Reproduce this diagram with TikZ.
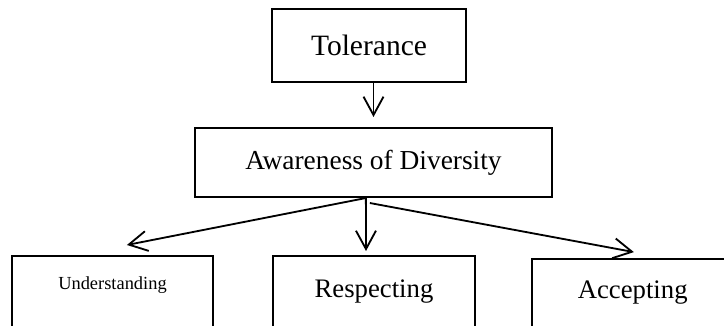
\documentclass[tikz,border=0pt]{standalone}
\usepackage{fontspec}
\setmainfont{Liberation Serif}
\usetikzlibrary{arrows.meta}
\begin{document}
\begin{tikzpicture}[x=0.025cm, y=-0.025cm,
    box/.style={draw, line width=1.3pt, inner sep=0pt},
    leaf/.style={box, anchor=north, minimum width=5.03cm, text depth=2.8cm},
    arr/.style={-{Straight Barb[length=0.46cm, width=0.5cm]}, line width=1.3pt}]
            \useasboundingbox (0, 0) rectangle (724, 326);
            \clip (0, 0) rectangle (724, 326);
            \node[box, minimum width=4.83cm, minimum height=1.83cm, font=\fontsize{21}{24}\selectfont] (tol) at (369, 45.7) {Tolerance};
            \node[box, minimum width=8.93cm, minimum height=1.73cm, font=\fontsize{19.5}{23}\selectfont] (aw) at (373.5, 162.5) {Awareness of Diversity};
            \node[leaf, text height=0.85cm, font=\fontsize{13.1}{15}\selectfont] (und) at (112.5, 255) {Understanding};
            \node[leaf, text height=1.03cm, font=\fontsize{19}{23}\selectfont] (resp) at (374, 255) {Respecting};
            \node[leaf, text height=1.0cm, font=\fontsize{19}{23}\selectfont] (acc) at (632.7, 257.7) {Accepting};
            \draw[arr, shorten >=0.25cm] (tol.south -| aw.north) -- (aw.north);
            \draw[arr] ([xshift=-0.19cm]aw.south) -- ([xshift=0.36cm, yshift=0.25cm]und.north);
            \draw[arr] ([xshift=-0.19cm]aw.south) -- ([xshift=-0.2cm, yshift=0.1cm]resp.north);
            \draw[arr] ([xshift=-0.09cm, yshift=-0.125cm]aw.south) -- ([xshift=0.03cm, yshift=0.14cm]acc.north);
        \end{tikzpicture}
\end{document}
